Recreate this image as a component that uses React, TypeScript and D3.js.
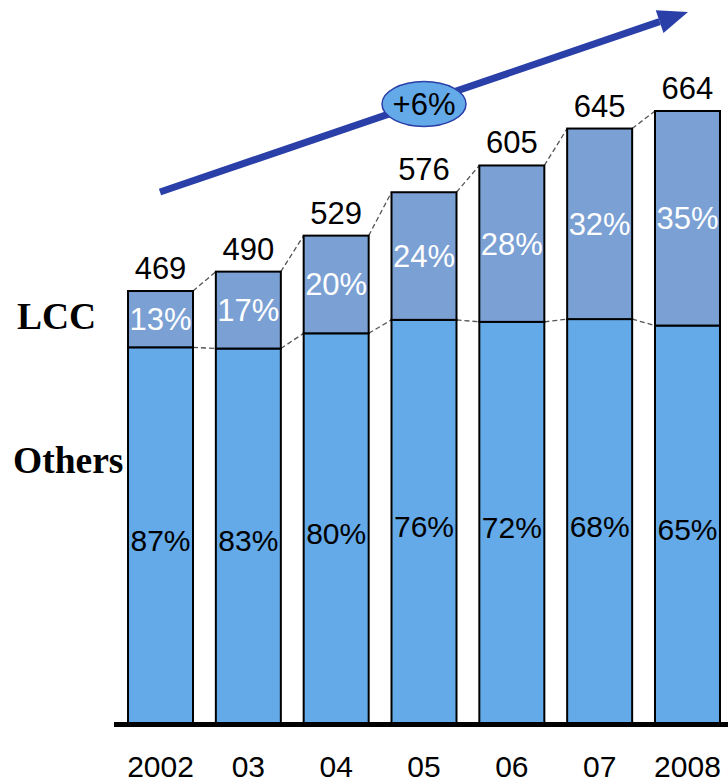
import React from "react";
import * as d3 from "d3";

const years = ["2002", "03", "04", "05", "06", "07", "2008"];
const totals = [469, 490, 529, 576, 605, 645, 664];
const othersShare = [87, 83, 80, 76, 72, 68, 65];
const lccShare = [13, 17, 20, 24, 28, 32, 35];
const growthLabel = "+6%";

const W = 728;
const H = 784;
const SANS = "'Liberation Sans', Arial, sans-serif";
const SERIF = "'Liberation Serif', 'Times New Roman', serif";

export default function App() {
  const x = d3
    .scaleBand<string>()
    .domain(years)
    .range([116.6, 731.4])
    .paddingInner(0.26)
    .paddingOuter(0.13);
  const y = d3.scaleLinear().domain([0, 664]).range([724, 111]);
  const bw = x.bandwidth();

  const rows = years.map((yr, i) => {
    const total = totals[i];
    const others = (total * othersShare[i]) / 100;
    return {
      yr,
      x0: x(yr)!,
      x1: x(yr)! + bw,
      cx: x(yr)! + bw / 2,
      yTop: y(total),
      yMid: y(others),
      yBase: y(0),
      total,
      oth: othersShare[i],
      lcc: lccShare[i],
    };
  });

  // trend arrow geometry
  const ax0 = 160, ay0 = 192, ax1 = 688, ay1 = 12;
  const ang = Math.atan2(ay1 - ay0, ax1 - ax0);
  const headLen = 30, headHalf = 12;
  const bx = ax1 - headLen * Math.cos(ang);
  const by = ay1 - headLen * Math.sin(ang);
  const nx = -Math.sin(ang), ny = Math.cos(ang);
  const head = [
    [ax1, ay1],
    [bx + nx * headHalf, by + ny * headHalf],
    [bx - nx * headHalf, by - ny * headHalf],
  ];

  return (
    <svg
      width={W}
      height={H}
      style={{ position: "absolute", left: 0, top: 0, background: "#fff" }}
    >
      {/* connectors between bars */}
      {rows.slice(0, -1).map((r, i) => {
        const n = rows[i + 1];
        return (
          <g key={"c" + i} stroke="#555" strokeWidth={1.3} strokeDasharray="5,3" fill="none">
            <line x1={r.x1} y1={r.yTop} x2={n.x0} y2={n.yTop} />
            <line x1={r.x1} y1={r.yMid} x2={n.x0} y2={n.yMid} />
          </g>
        );
      })}

      {rows.map((r) => (
        <g key={r.yr}>
          <rect
            x={r.x0}
            y={r.yMid}
            width={bw}
            height={r.yBase - r.yMid}
            fill="#64aae8"
            stroke="#000"
            strokeWidth={2}
          />
          <rect
            x={r.x0}
            y={r.yTop}
            width={bw}
            height={r.yMid - r.yTop}
            fill="#7ba0d4"
            stroke="#000"
            strokeWidth={2}
          />
          <text
            x={r.cx}
            y={(r.yTop + r.yMid) / 2 + 11}
            fontFamily={SANS}
            fontSize={31}
            fill="#fff"
            textAnchor="middle"
          >
            {r.lcc}%
          </text>
          <text
            x={r.cx}
            y={(r.yMid + r.yBase) / 2 + 15}
            fontFamily={SANS}
            fontSize={30}
            fill="#000"
            textAnchor="middle"
          >
            {r.oth}%
          </text>
          <text
            x={r.cx}
            y={r.yTop - 12}
            fontFamily={SANS}
            fontSize={31}
            fill="#000"
            textAnchor="middle"
          >
            {r.total}
          </text>
          <text
            x={r.cx}
            y={777}
            fontFamily={SANS}
            fontSize={30}
            fill="#000"
            textAnchor="middle"
          >
            {r.yr}
          </text>
        </g>
      ))}

      {/* baseline */}
      <line x1={114} x2={728} y1={724.5} y2={724.5} stroke="#000" strokeWidth={5} />

      {/* trend arrow */}
      <line x1={ax0} y1={ay0} x2={bx} y2={by} stroke="#2a3fa8" strokeWidth={7} />
      <polygon points={head.map((p) => p.join(",")).join(" ")} fill="#2a3fa8" />
      <ellipse cx={424} cy={104} rx={42} ry={22.5} fill="#64aae8" stroke="#2a3fa8" strokeWidth={1.5} />
      <text x={424} y={115} fontFamily={SANS} fontSize={31} textAnchor="middle" fill="#000">
        {growthLabel}
      </text>

      {/* series labels */}
      <text x={17} y={329} fontFamily={SERIF} fontWeight="bold" fontSize={37.5} fill="#000">
        LCC
      </text>
      <text x={13} y={473} fontFamily={SERIF} fontWeight="bold" fontSize={37.5} fill="#000">
        Others
      </text>
    </svg>
  );
}
